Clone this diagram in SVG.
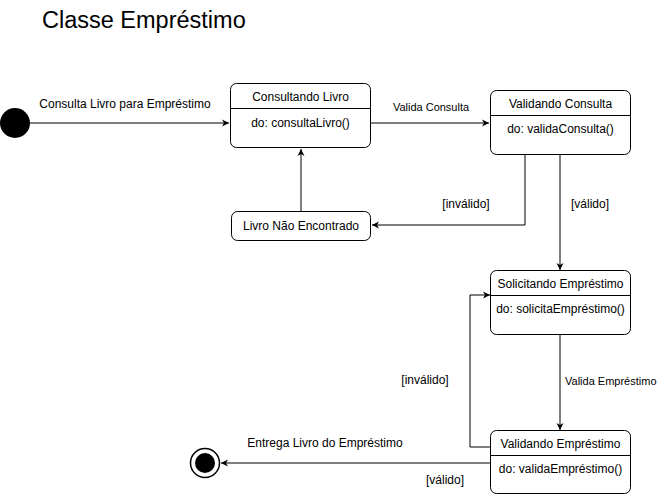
<svg xmlns="http://www.w3.org/2000/svg" width="657" height="496" viewBox="0 0 657 496">
<style>
  text { font-family: "Liberation Sans", Arial, sans-serif; fill: #000; }
  .t12 { font-size: 12px; text-anchor: middle; }
  .t11 { font-size: 11px; text-anchor: middle; }
  .box { fill: #fff; stroke: #000; stroke-width: 1; }
  .edge { fill: none; stroke: #000; stroke-width: 1; }
</style>
<defs>
  <marker id="arr" markerWidth="8" markerHeight="8" refX="7" refY="4" orient="auto" markerUnits="userSpaceOnUse">
    <path d="M0,0.5 L7,4 L0,7.5 L2,4 Z" fill="#000"/>
  </marker>
</defs>
<rect width="657" height="496" fill="#fff"/>
<text x="42" y="28" style="font-size:23.5px">Classe Empréstimo</text>

<g id="connectors">
  <path class="edge" d="M30,123 L229,123" marker-end="url(#arr)"/>
  <text class="t12" x="125" y="108">Consulta Livro para Empréstimo</text>
  <path class="edge" d="M371,123 L489,123" marker-end="url(#arr)"/>
  <text class="t11" x="431" y="111">Valida Consulta</text>
  <path class="edge" d="M525,155 L525,225 L372,225" marker-end="url(#arr)"/>
  <text class="t12" x="466" y="208">[inválido]</text>
  <path class="edge" d="M301,211 L301,149" marker-end="url(#arr)"/>
  <path class="edge" d="M560,155 L560,270" marker-end="url(#arr)"/>
  <text class="t12" x="590" y="208">[válido]</text>
  <path class="edge" d="M560,335 L560,430" marker-end="url(#arr)"/>
  <text x="565" y="385" style="font-size:11px">Valida Empréstimo</text>
  <path class="edge" d="M491,447 L470,447 L470,295 L490,295" marker-end="url(#arr)"/>
  <text class="t12" x="425" y="384">[inválido]</text>
  <path class="edge" d="M491,463 L221,463" marker-end="url(#arr)"/>
  <text class="t12" x="325" y="447">Entrega Livro do Empréstimo</text>
  <text class="t12" x="445" y="484">[válido]</text>
</g>

<g id="initial">
  <circle cx="15" cy="123" r="15" fill="#000"/>
</g>

<g id="consultando-livro">
  <rect class="box" x="230.5" y="83.5" width="140" height="64" rx="6"/>
  <line class="edge" x1="230.5" y1="108.5" x2="370.5" y2="108.5"/>
  <text class="t12" x="300.5" y="101">Consultando Livro</text>
  <text class="t12" x="300.5" y="127">do: consultaLivro()</text>
</g>

<g id="validando-consulta">
  <rect class="box" x="490.5" y="90.5" width="140" height="64" rx="6"/>
  <line class="edge" x1="490.5" y1="115.5" x2="630.5" y2="115.5"/>
  <text class="t12" x="560.5" y="108">Validando Consulta</text>
  <text class="t12" x="560.5" y="133">do: validaConsulta()</text>
</g>

<g id="livro-nao-encontrado">
  <rect class="box" x="231.5" y="211.5" width="139" height="29" rx="6"/>
  <text class="t12" x="301" y="230">Livro Não Encontrado</text>
</g>

<g id="solicitando-emprestimo">
  <rect class="box" x="490.5" y="270.5" width="140" height="64" rx="6"/>
  <line class="edge" x1="490.5" y1="295.5" x2="630.5" y2="295.5"/>
  <text class="t12" x="560.5" y="288">Solicitando Empréstimo</text>
  <text class="t12" x="560.5" y="313">do: solicitaEmpréstimo()</text>
</g>

<g id="validando-emprestimo">
  <rect class="box" x="490.5" y="430.5" width="140" height="63" rx="6"/>
  <line class="edge" x1="490.5" y1="455.5" x2="630.5" y2="455.5"/>
  <text class="t12" x="560.5" y="448">Validando Empréstimo</text>
  <text class="t12" x="560.5" y="473">do: validaEmpréstimo()</text>
</g>

<g id="final">
  <circle cx="205" cy="463" r="14.5" fill="#fff" stroke="#000" stroke-width="1.5"/>
  <circle cx="205" cy="463" r="10" fill="#000"/>
</g>
</svg>
